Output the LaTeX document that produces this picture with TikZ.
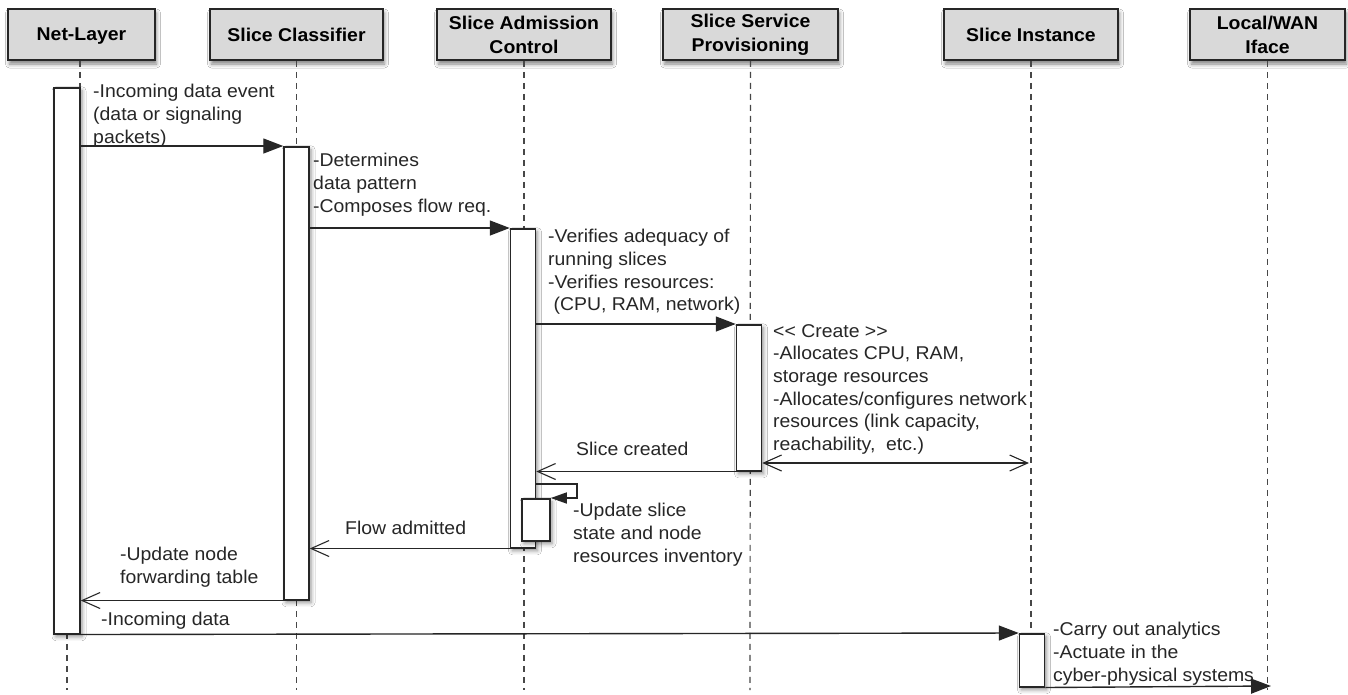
\documentclass[tikz,border=0pt]{standalone}
\usepackage{fontspec}
\setmainfont{Liberation Sans}[FakeStretch=1.05]
\usetikzlibrary{arrows.meta,shadows,shadows.blur}
\definecolor{hdrfill}{HTML}{D9D9D9}
\definecolor{ink}{HTML}{262626}
\tikzset{
  hdr/.style={draw=ink, line width=1.5pt, fill=hdrfill, minimum width=174pt, minimum height=51pt,
    inner sep=0pt, align=center, font=\bfseries\fontsize{18.5}{24}\selectfont,
    blur shadow={shadow xshift=1.5pt, shadow yshift=-4pt, shadow blur radius=4pt, shadow opacity=50}},
  actbar/.style={draw=ink, line width=1.5pt, fill=white, minimum width=25pt, inner sep=0pt, anchor=north,
    blur shadow={shadow xshift=2pt, shadow yshift=-3pt, shadow blur radius=4pt, shadow opacity=45}},
  life/.style={draw=ink!85, line width=1.2pt, dash pattern=on 6pt off 5pt},
  msgtxt/.style={inner sep=0pt, align=left, font=\fontsize{18.5}{22.7}\selectfont, text=ink},
  fillarrow/.style={draw=ink, line width=1.4pt, -{Triangle[length=20pt,width=15pt]}},
  openarrow/.style={draw=ink, line width=1.4pt, -{Straight Barb[length=18pt,width=16pt,line width=1.1pt]}},
  openboth/.style={draw=ink, line width=1.4pt, {Straight Barb[length=18pt,width=16pt,line width=1.1pt]}-{Straight Barb[length=18pt,width=16pt,line width=1.1pt]}},
}
\begin{document}
\begin{tikzpicture}[x=1pt,y=-1pt]
\useasboundingbox (0,0) rectangle (1348,694);
\fill[white] (0,0) rectangle (1348,694);

% headers
\node[hdr, minimum width=147pt, text depth=0pt] (net) at (81.5,34.5) {Net-Layer};
\node[hdr, minimum width=173pt] (cls) at (296.5,34.5) {Slice Classifier};
\node[hdr] (adm) at (524,34.5) {Slice Admission\\Control};
\node[hdr, minimum width=175pt] (prov) at (750.5,34.5) {Slice Service\\Provisioning};
\node[hdr] (inst) at (1031,34.5) {Slice Instance};
\node[hdr, minimum width=155pt] (iface) at (1267.5,34.5) {Local/WAN\\Iface};

% anchor coordinates on lifelines
\coordinate (netbot) at (67,690);
\coordinate (clsbot) at (296.5,690);
\coordinate (admbot) at (524,690);
\coordinate (provbot) at (750,690);
\coordinate (ifacebot) at (1267.5,690);
\coordinate (nettop) at (80,87);

% lifelines
\draw[life] (net.south -| nettop) -- (nettop);
\draw[life] (netbot |- 633,633) -- (netbot);
\draw[life] (cls.south) -- (clsbot);
\draw[life] (adm.south) -- (admbot);
\draw[life] (prov.south) -- (provbot);
\draw[life] (inst.south) -- (1031,633);
\draw[life] (iface.south) -- (ifacebot);

% activation bars
\node[actbar, minimum width=26pt, minimum height=546pt] (netbar) at (67,87) {};
\node[actbar, minimum height=453pt] (clsbar) at (296.5,146) {};
\node[actbar, minimum height=319pt] (admbar) at (523,228) {};
\node[actbar, minimum height=146pt] (provbar) at (749,324) {};
\node[actbar, minimum width=28pt, minimum height=42pt] (nestbar) at (536,498) {};
\node[actbar, minimum height=53pt] (instbar) at (1032,633) {};

% messages
\draw[fillarrow] (netbar.east |- clsbar.north) -- (clsbar.north west);
\draw[fillarrow] (clsbar.east |- admbar.north) -- (admbar.north west);
\draw[fillarrow] (admbar.east |- provbar.north) -- (provbar.north west);
\draw[openarrow] (provbar.south west) -- (admbar.east |- provbar.south west);
\coordinate (instmid) at (1029,463);
\draw[openboth] (provbar.east |- instmid) -- (instmid);
\coordinate (loopR) at (577,484);
\draw[fillarrow, -{Triangle[length=16pt,width=11pt]}] (admbar.east |- loopR) -- (loopR) |- (nestbar.north east);
\draw[openarrow] (admbar.south west) -- (clsbar.east |- admbar.south west);
\draw[openarrow] (clsbar.south west) -- (netbar.east |- clsbar.south west);
\draw[fillarrow] (netbar.south east) -- (instbar.north west);
\coordinate (ifaceend) at (1271,686);
\draw[fillarrow] (instbar.south east) -- (ifaceend);

% texts
\node[msgtxt, anchor=north west] (t1) at (93,84) {-Incoming data event\\(data or signaling\\packets)};
\node[msgtxt, anchor=north west] (t2) at (313,153) {-Determines\\data pattern\\-Composes flow req.};
\node[msgtxt, anchor=north west] (t3) at (548,229) {-Verifies adequacy of\\running slices\\-Verifies resources:\\\ (CPU, RAM, network)};
\node[msgtxt, anchor=north west] (t4) at (773,324) {<{}< Create >{}>\\-Allocates CPU, RAM,\\storage resources\\-Allocates/configures network\\resources (link capacity,\\reachability,\ \ etc.)};
\node[msgtxt, anchor=west] (t5) at (576,449) {Slice created};
\node[msgtxt, anchor=north west] (t6) at (573,503) {-Update slice\\state and node\\resources inventory};
\node[msgtxt, anchor=west] (t7) at (345,528) {Flow admitted};
\node[msgtxt, anchor=north west] (t8) at (120,547) {-Update node\\forwarding table};
\node[msgtxt, anchor=west] (t9) at (101,621) {-Incoming data};
\node[msgtxt, anchor=north west] (t10) at (1053,622) {-Carry out analytics\\-Actuate in the\\cyber-physical systems};
\end{tikzpicture}
\end{document}
